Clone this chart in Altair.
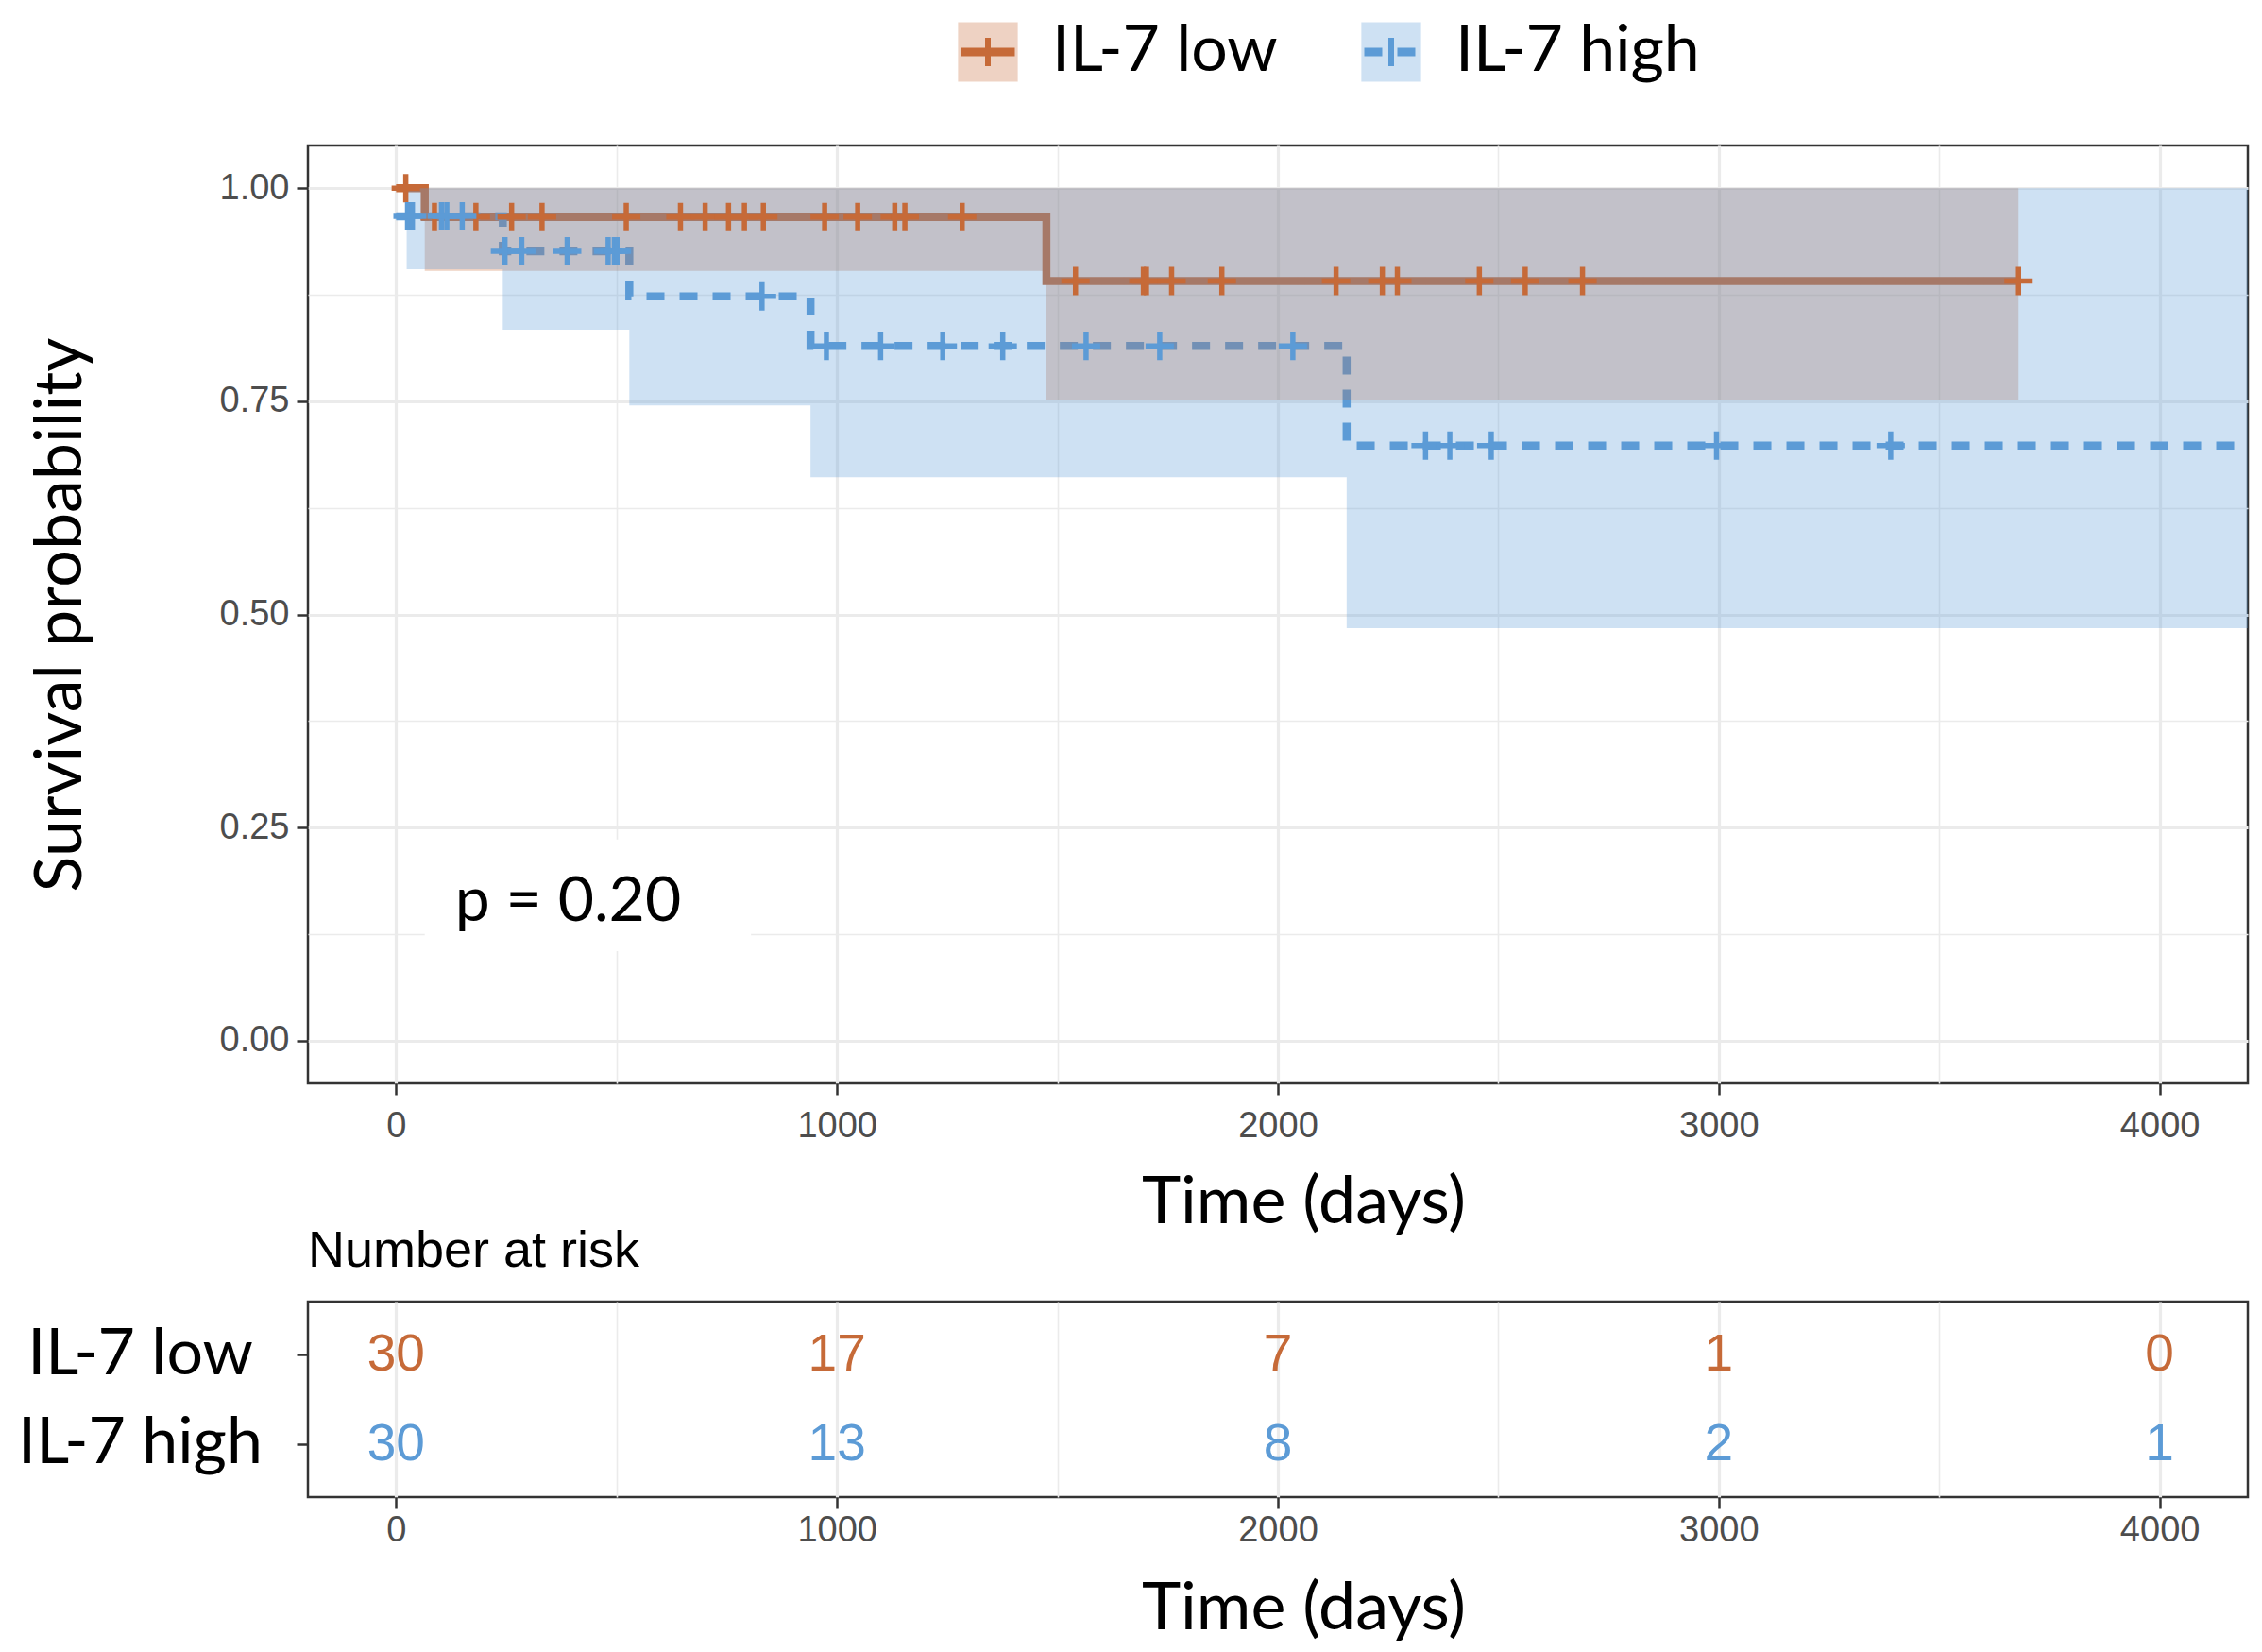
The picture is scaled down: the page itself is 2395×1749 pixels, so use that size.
import altair as alt
import pandas as pd

groups = ["IL-7 low", "IL-7 high"]
line_colors = ["#C66A38", "#5C9BD6"]

# Kaplan-Meier step curves
low_time = [0, 65, 1475, 3685]
low_surv = [1.000, 0.966, 0.891, 0.891]
high_time = [0, 242, 529, 940, 2156, 4300]
high_surv = [0.967, 0.926, 0.873, 0.815, 0.698, 0.698]

# confidence bands
low_ci_time = [65, 1475, 3680]
low_ci_lower = [0.903, 0.752, 0.752]
low_ci_upper = [1.0, 1.0, 1.0]
high_ci_time = [24, 242, 529, 940, 2156, 4300]
high_ci_lower = [0.905, 0.834, 0.745, 0.661, 0.484, 0.484]
high_ci_upper = [1.0, 1.0, 1.0, 1.0, 1.0, 1.0]

# censoring marks
low_cens_time = [22, 87, 181, 262, 331, 522, 645, 701, 754, 790, 833, 972,
                 1047, 1131, 1154, 1284, 1541, 1695, 1702, 1759, 1873, 2132,
                 2237, 2271, 2457, 2561, 2691, 3680]
low_cens_surv = [1.000, 0.966, 0.966, 0.966, 0.966, 0.966, 0.966, 0.966,
                 0.966, 0.966, 0.966, 0.966, 0.966, 0.966, 0.966, 0.966,
                 0.891, 0.891, 0.891, 0.891, 0.891, 0.891, 0.891, 0.891,
                 0.891, 0.891, 0.891, 0.891]
high_cens_time = [26, 37, 103, 115, 150, 247, 285, 388, 481, 495, 501, 830,
                  976, 1099, 1240, 1376, 1565, 1732, 2034, 2335, 2390, 2484,
                  2995, 3390]
high_cens_surv = [0.967, 0.967, 0.967, 0.967, 0.967, 0.926, 0.926, 0.926,
                  0.926, 0.926, 0.926, 0.873, 0.815, 0.815, 0.815, 0.815,
                  0.815, 0.815, 0.815, 0.698, 0.698, 0.698, 0.698, 0.698]

# number at risk table
risk_time = [0, 1000, 2000, 3000, 4000]
risk_low = [30, 17, 7, 1, 0]
risk_high = [30, 13, 8, 2, 1]

x_ticks = [0, 1000, 2000, 3000, 4000]
y_ticks = [0.00, 0.25, 0.50, 0.75, 1.00]
p_text = "p = 0.20"

# ---------------------------------------------------------------
x_grid = sorted(x_ticks + [(a + b) / 2 for a, b in zip(x_ticks[:-1], x_ticks[1:])])
y_grid = sorted(y_ticks + [(a + b) / 2 for a, b in zip(y_ticks[:-1], y_ticks[1:])])

curve_df = pd.concat([
    pd.DataFrame({"group": groups[0], "time": low_time, "surv": low_surv}),
    pd.DataFrame({"group": groups[1], "time": high_time, "surv": high_surv}),
])
band_df = pd.concat([
    pd.DataFrame({"group": groups[0], "time": low_ci_time, "lower": low_ci_lower, "upper": low_ci_upper}),
    pd.DataFrame({"group": groups[1], "time": high_ci_time, "lower": high_ci_lower, "upper": high_ci_upper}),
])
cens_df = pd.concat([
    pd.DataFrame({"group": groups[0], "time": low_cens_time, "surv": low_cens_surv}),
    pd.DataFrame({"group": groups[1], "time": high_cens_time, "surv": high_cens_surv}),
])
risk_df = pd.concat([
    pd.DataFrame({"group": groups[0], "time": risk_time, "n": risk_low}),
    pd.DataFrame({"group": groups[1], "time": risk_time, "n": risk_high}),
])
pval_df = pd.DataFrame({"x0": [65], "x1": [805], "y0": [0.105], "y1": [0.236],
                        "tx": [390], "ty": [0.163], "label": [p_text]})

PW = 2054
PH = 993
RH = 207
TITLE_X = 1054
BIG = 68

xscale = alt.Scale(domain=[-200, 4200], nice=False, zero=False)
yscale = alt.Scale(domain=[-0.05, 1.05], nice=False, zero=False)

x_major = "datum.value % 1000 === 0"
y_major = "(datum.value * 4) % 1 === 0"


def x_axis(label_pad, title_pad):
    return alt.Axis(
        values=x_grid, format="d", title="Time (days)",
        labelExpr=f"{x_major} ? datum.label : ''",
        tickOpacity={"condition": {"test": x_major, "value": 1}, "value": 0},
        gridWidth={"condition": {"test": x_major, "value": 3.2}, "value": 1.6},
        labelPadding=label_pad, titlePadding=title_pad, titleX=TITLE_X,
    )


x_axis_main = x_axis(14, 28)
y_axis_main = alt.Axis(
    values=y_grid, format=".2f", title="Survival probability",
    labelExpr=f"{y_major} ? datum.label : ''",
    tickOpacity={"condition": {"test": y_major, "value": 1}, "value": 0},
    gridWidth={"condition": {"test": y_major, "value": 3.2}, "value": 1.6},
    labelPadding=8, titlePadding=132,
)

color_enc = alt.Color("group:N", scale=alt.Scale(domain=groups, range=line_colors), legend=None)
dash_enc = alt.StrokeDash("group:N", scale=alt.Scale(domain=groups, range=[[1, 0], [16, 20]]), legend=None)

plus_path = "M-1,0H1M0,-1V1"

lines = alt.Chart(curve_df).mark_line(interpolate="step-after", strokeWidth=8.5, clip=True).encode(
    x=alt.X("time:Q", scale=xscale, axis=x_axis_main),
    y=alt.Y("surv:Q", scale=yscale, axis=y_axis_main),
    color=color_enc, strokeDash=dash_enc,
)
bands = alt.Chart(band_df).mark_area(interpolate="step-after", opacity=0.3, clip=True).encode(
    x=alt.X("time:Q", scale=xscale, axis=x_axis_main),
    y=alt.Y("lower:Q", scale=yscale, axis=y_axis_main),
    y2="upper:Q",
    color=color_enc,
)
cens = alt.Chart(cens_df).mark_point(shape=plus_path, size=900, strokeWidth=5.5, filled=False,
                                     opacity=1, clip=True).encode(
    x=alt.X("time:Q", scale=xscale, axis=x_axis_main),
    y=alt.Y("surv:Q", scale=yscale, axis=y_axis_main),
    color=color_enc,
)
pbox = alt.Chart(pval_df).mark_rect(color="white").encode(
    x=alt.X("x0:Q", scale=xscale, axis=x_axis_main), x2="x1:Q",
    y=alt.Y("y0:Q", scale=yscale, axis=y_axis_main), y2="y1:Q",
)
ptext = alt.Chart(pval_df).mark_text(font="Lato", fontSize=66, color="black",
                                     align="center", baseline="middle").encode(
    x=alt.X("tx:Q", scale=xscale, axis=x_axis_main),
    y=alt.Y("ty:Q", scale=yscale, axis=y_axis_main),
    text="label:N",
)

main = alt.layer(
    lines.transform_filter(alt.datum.group == groups[0]),
    lines.transform_filter(alt.datum.group == groups[1]),
    bands.transform_filter(alt.datum.group == groups[0]),
    bands.transform_filter(alt.datum.group == groups[1]),
    pbox, ptext,
    cens,
).properties(width=PW, height=PH)

# ---- risk table
risk = alt.Chart(risk_df).mark_text(font="Liberation Sans", fontSize=55, baseline="middle").encode(
    x=alt.X("time:Q", scale=xscale, axis=x_axis(4, 30)),
    y=alt.Y("group:N", sort=groups, scale=alt.Scale(type="point", padding=0.6),
            axis=alt.Axis(title=None, labelAlign="center", labelPadding=166, labelLimit=0,
                          labelFont="Lato", labelFontSize=BIG, labelColor="black")),
    color=color_enc,
    text="n:Q",
).properties(
    width=PW, height=RH,
    title=alt.TitleParams("Number at risk", anchor="start", frame="group",
                          font="Liberation Sans", fontSize=54, fontWeight="normal",
                          color="black", offset=26),
)

# ---- legend row
SPACING = -14
LH = 137
legend_df = pd.DataFrame({"group": groups, "row": ["key", "key"]})
lx = alt.X("group:N", sort=groups, scale=alt.Scale(type="point", range=[720, 1147], padding=0), axis=None)
ly = alt.Y("row:N", scale=alt.Scale(type="point", padding=0, align=40 / LH), axis=None)
lcolor = alt.Color("group:N", scale=alt.Scale(domain=groups, range=line_colors), legend=None)
lbase = alt.Chart(legend_df).encode(x=lx, y=ly)
key_bg = lbase.mark_square(size=4000, opacity=0.3).encode(color=lcolor)
key_h = lbase.mark_point(shape="M-1,0H1", size=3249, strokeWidth=9, filled=False, opacity=1).encode(
    color=lcolor,
    strokeDash=alt.StrokeDash("group:N", scale=alt.Scale(domain=groups, range=[[1, 0], [19, 16]]), legend=None),
)
key_v = lbase.mark_point(shape="M0,-1V1", size=900, strokeWidth=6, filled=False, opacity=1).encode(color=lcolor)
key_t = lbase.mark_text(align="left", dx=68, font="Lato", fontSize=BIG, color="black",
                        baseline="middle").encode(text="group:N")
legend = alt.layer(key_bg, key_h, key_v, key_t).properties(
    width=PW, height=LH, view=alt.ViewBackground(stroke="transparent"))

chart = alt.vconcat(legend, main, risk, spacing=SPACING).properties(
    padding={"left": 9, "top": 5, "right": 5, "bottom": 5}
).configure_view(stroke="#333333", strokeWidth=2.5).configure_axis(
    labelFont="Liberation Sans", labelFontSize=38, labelColor="#4D4D4D",
    titleFont="Lato", titleFontSize=70, titleFontWeight="normal", titleColor="black",
    tickColor="#333333", tickWidth=2.5, tickSize=12, gridColor="#EBEBEB", domain=False,
)

chart.save("out.html", embed_options={"renderer": "svg", "actions": False})
